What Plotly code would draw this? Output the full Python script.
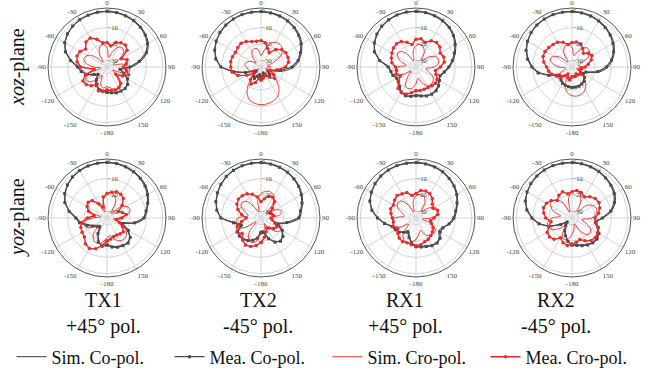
import plotly.graph_objects as go

# Angles (deg), -180 .. 170 step 10
THETA = list(range(-180, 180, 10))

# ---- xoz-plane ----
tx1_xoz_sim_co = [-19,-19.5,-20,-21,-23,-26,-24,-21,-19,-17,-12,-7.5,-4.5,-2.8,-1.6,-0.8,-0.3,0,0,-0.2,-0.6,-1.2,-2,-3.2,-5,-8,-13,-19,-25,-24,-20,-18,-17,-17,-17.5,-18]
tx1_xoz_mea_co = [-18.5,-19,-19.5,-21,-24,-27,-25,-21,-18,-16,-11.5,-7,-4.2,-2.5,-1.4,-0.7,-0.4,-0.1,0,-0.3,-0.8,-1.4,-2.3,-3.6,-5.5,-8.5,-14,-20,-26,-23,-19.5,-17.5,-16.8,-17,-17.2,-18]
tx1_xoz_sim_cx = [-22,-21,-23,-28,-24,-20,-19,-22,-30,-26,-21,-19,-20,-24,-30,-25,-21,-20,-22,-28,-24,-20,-19,-21,-27,-30,-24,-21,-20,-23,-30,-25,-21,-19,-19.5,-21]
tx1_xoz_mea_cx = [-20,-19,-18.5,-22,-19,-17.5,-17,-20,-26,-18,-15.5,-14.5,-15,-17,-14,-13.5,-16,-19,-19,-21,-18,-17,-16.5,-18,-24,-21,-22,-24,-22,-20,-23,-27,-21,-19.5,-19,-19.5]

tx2_xoz_sim_co = [-28,-30,-29,-27,-28,-31,-30,-25,-18,-10,-6.5,-4.2,-2.6,-1.5,-0.8,-0.3,0,0,-0.1,-0.3,-0.7,-1.3,-2.2,-3.5,-5.3,-7.8,-10.5,-14,-20,-27,-30,-28,-27,-29,-31,-29]
tx2_xoz_mea_co = [-27,-29,-28,-26,-27,-30,-29,-24,-17,-9.5,-6,-3.9,-2.4,-1.3,-0.6,-0.2,0,-0.1,-0.2,-0.5,-0.9,-1.6,-2.6,-4,-5.8,-8.3,-11,-15,-22,-28,-29,-27,-26,-28,-30,-28]
tx2_xoz_sim_cx = [-11,-11.5,-13,-17,-24,-32,-30,-27,-26,-25,-24,-25,-27,-30,-26,-23,-22,-23,-27,-24,-19,-16.5,-16,-17,-20,-26,-30,-28,-30,-31,-28,-22,-17,-13.5,-12,-11.2]
tx2_xoz_mea_cx = [-26,-27,-24,-22,-24,-28,-24,-19,-16,-15.5,-15.2,-15.5,-16,-15.5,-15,-16,-17.5,-18,-17.8,-19,-22,-24,-20,-17.5,-16.5,-16.5,-17,-19,-24,-28,-25,-23,-26,-29,-28,-27]

rx1_xoz_sim_co = [-17,-16,-15.5,-16,-18,-19.5,-20,-19,-18,-17.5,-12,-7.5,-5,-3,-1.7,-0.8,-0.3,0,0,-0.2,-0.6,-1.2,-2.2,-3.8,-6,-8.5,-11,-13.5,-16,-18,-18,-16.5,-15.5,-15,-15.5,-16.5]
rx1_xoz_mea_co = [-16.5,-15.8,-15.3,-16.2,-18.5,-20,-20.5,-19,-18.5,-17,-11.5,-7,-4.6,-2.8,-1.5,-0.7,-0.2,0,-0.1,-0.3,-0.8,-1.5,-2.5,-4.2,-6.5,-9,-11.5,-14,-16.5,-18.5,-17.5,-16,-15,-14.8,-15.2,-16]
rx1_xoz_sim_cx = [-24,-21,-20,-21,-26,-30,-25,-22,-21,-23,-28,-24,-21,-20,-22,-27,-30,-24,-21,-20,-21,-24,-29,-25,-21,-19.5,-20,-23,-28,-26,-22,-20.5,-20,-21,-24,-27]
rx1_xoz_mea_cx = [-19.5,-18,-16.5,-16,-17,-20,-23,-21,-22,-21.5,-19,-18,-17,-16,-15.5,-16,-18,-20,-17,-16.5,-18,-15.5,-14.5,-15,-17,-16,-16.5,-19,-22,-21,-19,-18.5,-19,-19.5,-19.5,-19.5]

rx2_xoz_sim_co = [-22,-22,-22.5,-23,-24,-26,-25,-20,-14,-10,-7,-4.5,-2.8,-1.6,-0.8,-0.3,0,0,-0.1,-0.3,-0.7,-1.3,-2.1,-3.2,-4.6,-6.5,-9,-12,-17,-24,-27,-25,-23,-22.5,-22,-22]
rx2_xoz_mea_co = [-21.5,-21.8,-22,-22.5,-23.5,-25,-24,-19,-13,-9.5,-6.5,-4.2,-2.6,-1.4,-0.6,-0.2,0,-0.1,-0.2,-0.5,-0.9,-1.6,-2.5,-3.6,-5.2,-7,-9.5,-13,-18,-25,-26,-24,-22.5,-22,-21.5,-21.5]
rx2_xoz_sim_cx = [-16.5,-18,-22,-28,-26,-23,-24,-29,-30,-26,-22,-20,-21,-25,-30,-24,-21,-20,-22,-27,-24,-20.5,-19,-20,-23,-29,-30,-27,-30,-31,-29,-25,-21,-18,-16.5,-16]
rx2_xoz_mea_cx = [-28,-26,-27,-29,-27,-25,-23,-21,-19.5,-18.5,-16.5,-15.2,-15,-15.5,-16,-16.5,-18,-20,-19,-18.5,-19,-21,-23,-21,-20,-21.5,-24,-26,-28,-29,-28,-27,-28,-29,-28,-28]

# ---- yoz-plane ----
tx1_yoz_sim_co = [-18,-17,-19,-24,-28,-27,-25,-22,-18,-15.5,-11,-7,-4.5,-2.7,-1.5,-0.7,-0.2,0,0,-0.2,-0.6,-1.2,-2,-3.2,-5,-7.2,-9.5,-11,-16,-25,-20,-16,-14.5,-15,-15.5,-16.5]
tx1_yoz_mea_co = [-17.5,-16.5,-18.5,-23,-27,-26,-24,-21,-17,-15,-10.5,-6.6,-4.2,-2.5,-1.3,-0.6,-0.2,-0.1,-0.1,-0.3,-0.8,-1.5,-2.4,-3.7,-5.5,-7.6,-9.8,-11.5,-17,-24,-19,-15.5,-14,-14.5,-15,-16]
tx1_yoz_sim_cx = [-22,-19,-17.5,-18,-21,-27,-22,-19.5,-20,-25,-30,-23,-20,-19,-21,-26,-30,-22,-19,-18.5,-20,-24,-30,-24,-20,-19,-21,-27,-30,-25,-21,-18.5,-17.5,-18,-20,-23]
tx1_yoz_mea_cx = [-20,-17,-14,-12.5,-13.5,-16,-16.5,-17,-18,-22,-26,-22,-20,-19,-20,-24,-27,-21,-19,-18,-17,-17.2,-18.5,-22,-26,-24,-22,-25,-28,-26,-23,-21,-21.5,-22,-22,-21]

tx2_yoz_sim_co = [-26,-22,-20,-18.5,-17.5,-17,-18,-22,-18,-10,-7,-5,-3.5,-2.2,-1.2,-0.5,-0.1,0,-0.1,-0.4,-0.9,-1.6,-2.5,-3.7,-5.2,-7,-9,-10.5,-17,-24,-20,-17,-16,-17.5,-21,-26]
tx2_yoz_mea_co = [-25,-21.5,-19.5,-18,-17,-16.8,-17.5,-21,-17,-9.5,-6.6,-4.7,-3.3,-2,-1,-0.4,-0.1,-0.1,-0.2,-0.6,-1.1,-1.8,-2.8,-4,-5.6,-7.4,-9.5,-11,-18,-23,-19,-16.5,-15.5,-17,-20.5,-25]
tx2_yoz_sim_cx = [-25,-20,-18,-19,-23,-30,-22,-19,-18.5,-20,-26,-24,-20,-19,-21,-27,-30,-23,-19,-17.5,-17,-18.5,-23,-30,-24,-21,-22,-28,-27,-22,-20,-21,-26,-30,-27,-26]
tx2_yoz_mea_cx = [-19,-17,-15.5,-15,-16.5,-19,-17,-18.5,-22,-25,-22,-19,-17,-16,-16.2,-17,-18.5,-21,-24,-22,-20,-19.5,-21,-25,-28,-27,-26,-28,-27,-25,-23,-24,-26,-27,-25,-22]

rx1_yoz_sim_co = [-17,-19,-22,-25,-23,-21,-20,-19,-15,-11,-7,-4.3,-2.7,-1.6,-0.8,-0.3,0,0,-0.1,-0.3,-0.7,-1.3,-2.2,-3.4,-5,-7,-9,-10.5,-13,-17,-18,-15.5,-14.5,-15,-16,-16.5]
rx1_yoz_mea_co = [-16.5,-18.5,-21.5,-24,-22.5,-20.5,-19.5,-18.5,-14.5,-10.5,-6.6,-4,-2.5,-1.4,-0.6,-0.2,0,-0.1,-0.2,-0.5,-0.9,-1.5,-2.5,-3.7,-5.3,-7.4,-9.4,-11,-13.5,-16.5,-17,-14.8,-14,-14.5,-15.5,-16]
rx1_yoz_sim_cx = [-21,-19,-18,-19,-22,-28,-23,-20,-19.5,-21,-27,-25,-21,-19.5,-20.5,-25,-30,-24,-20.5,-19.5,-20,-23,-29,-25,-21,-20,-21,-25,-30,-24,-20.5,-19.5,-20,-22,-26,-24]
rx1_yoz_mea_cx = [-17,-17.5,-18,-17.5,-18,-19.5,-21,-19,-20,-19.5,-18.5,-17.5,-18,-17,-16,-17,-17.5,-20,-19,-17,-16.5,-17,-18.5,-21,-22,-20,-20.5,-23,-25,-24,-22,-21,-20,-19,-18.5,-17.5]

rx2_yoz_sim_co = [-18,-20,-23,-26,-29,-31,-27,-20,-14,-10,-6.5,-4,-2.5,-1.4,-0.7,-0.2,0,0,-0.1,-0.3,-0.6,-1.1,-1.8,-2.6,-3.8,-6,-9.5,-15,-20,-18,-15.5,-14.5,-14.5,-15.5,-16.5,-17.5]
rx2_yoz_mea_co = [-17.5,-19.5,-22.5,-25,-28,-30,-26,-19,-13.5,-9.5,-6,-3.7,-2.3,-1.3,-0.6,-0.2,0,-0.1,-0.2,-0.4,-0.8,-1.3,-2.1,-3,-4.3,-6.5,-10,-15.5,-19.5,-17,-15,-14,-14.2,-15,-16,-17]
rx2_yoz_sim_cx = [-24,-21,-20,-22,-28,-24,-20,-18.5,-19,-22,-27,-22,-19,-18,-19.5,-24,-30,-22,-18,-17.5,-19,-24,-29,-22,-19,-18,-19,-22,-28,-25,-21,-19.5,-21,-26,-30,-27]
rx2_yoz_mea_cx = [-18,-17,-18,-20,-17,-16,-16.5,-19,-21,-18,-16.5,-15.5,-16,-17.5,-20,-18,-17,-19,-18,-17,-17.5,-19,-17,-15.5,-15,-16,-17.5,-20,-19,-17,-16,-15.5,-16,-18,-20,-19]

COL_TITLES = ["TX1", "TX2", "RX1", "RX2"]
COL_POLS = ["+45° pol.", "-45° pol.", "+45° pol.", "-45° pol."]
ROW_TITLES = ["<i>xoz</i>-plane", "<i>yoz</i>-plane"]
ANG_TICKVALS = [0, 30, 60, 90, 120, 150, 180, 210, 240, 270, 300, 330]
ANG_TICKTEXT = ["0", "30", "60", "90", "120", "150", "-180", "-150", "-120", "-90", "-60", "-30"]
RAD_TICKS = [0, -10, -20, -30]
SERIES_NAMES = ["Sim. Co-pol.", "Mea. Co-pol.", "Sim. Cro-pol.", "Mea. Cro-pol."]

PANELS = [
    [tx1_xoz_sim_co, tx1_xoz_mea_co, tx1_xoz_sim_cx, tx1_xoz_mea_cx],
    [tx2_xoz_sim_co, tx2_xoz_mea_co, tx2_xoz_sim_cx, tx2_xoz_mea_cx],
    [rx1_xoz_sim_co, rx1_xoz_mea_co, rx1_xoz_sim_cx, rx1_xoz_mea_cx],
    [rx2_xoz_sim_co, rx2_xoz_mea_co, rx2_xoz_sim_cx, rx2_xoz_mea_cx],
    [tx1_yoz_sim_co, tx1_yoz_mea_co, tx1_yoz_sim_cx, tx1_yoz_mea_cx],
    [tx2_yoz_sim_co, tx2_yoz_mea_co, tx2_yoz_sim_cx, tx2_yoz_mea_cx],
    [rx1_yoz_sim_co, rx1_yoz_mea_co, rx1_yoz_sim_cx, rx1_yoz_mea_cx],
    [rx2_yoz_sim_co, rx2_yoz_mea_co, rx2_yoz_sim_cx, rx2_yoz_mea_cx],
]

W, H = 655, 379
CX = [107, 261, 416, 572]
CY = [67, 218]
R = 59
LABEL_X = [103, 258, 405, 556]

STYLES = [
    dict(mode="lines", line=dict(color="#3a3a3a", width=1.0, shape="spline")),
    dict(mode="lines+markers", line=dict(color="#4a4a4a", width=1.3),
         marker=dict(symbol="square", size=3, color="#4a4a4a")),
    dict(mode="lines", line=dict(color="#ff2020", width=0.9, shape="spline")),
    dict(mode="lines+markers", line=dict(color="#ec2a2a", width=1.4),
         marker=dict(symbol="circle", size=3.5, color="#ec2a2a")),
]

fig = go.Figure()
FONT = "Liberation Serif, Times New Roman, serif"

for p, series in enumerate(PANELS):
    row, col = divmod(p, 4)
    key = "polar" if p == 0 else f"polar{p+1}"
    for s, vals in enumerate(series):
        th = THETA + [THETA[0]]
        rr = list(vals) + [vals[0]]
        fig.add_trace(go.Scatterpolar(
            theta=th, r=rr, subplot=key, name=SERIES_NAMES[s],
            showlegend=(p == 0), legendrank=s, **STYLES[s]))
    cx, cy = CX[col], CY[row]
    fig.layout[key] = dict(
        domain=dict(x=[(cx - R) / W, (cx + R) / W],
                    y=[(H - cy - R) / H, (H - cy + R) / H]),
        bgcolor="white",
        angularaxis=dict(rotation=90, direction="clockwise",
                         tickmode="array", tickvals=ANG_TICKVALS, ticktext=ANG_TICKTEXT,
                         tickfont=dict(family=FONT, size=7, color="#444444"),
                         showline=True, linecolor="#555", linewidth=1,
                         gridcolor="#d4d4d4", gridwidth=0.8, ticks=""),
        radialaxis=dict(range=[-34, 2], tickmode="array", tickvals=RAD_TICKS,
                        angle=90, tickangle=90, showline=False, ticks="",
                        gridcolor="#d4d4d4", gridwidth=0.8,
                        tickfont=dict(family=FONT, size=6.5, color="#444444")),
    )

ann = []
for c in range(4):
    for text, y in ((COL_TITLES[c], 300), (COL_POLS[c], 326)):
        ann.append(dict(x=LABEL_X[c] / W, y=(H - y) / H, xref="paper", yref="paper",
                        text=text, showarrow=False, xanchor="center", yanchor="middle",
                        font=dict(family=FONT, size=20, color="#111")))
for r_i in range(2):
    ann.append(dict(x=17 / W, y=(H - CY[r_i]) / H, xref="paper", yref="paper",
                    text=ROW_TITLES[r_i], textangle=-90, showarrow=False,
                    xanchor="center", yanchor="middle",
                    font=dict(family=FONT, size=20, color="#111")))

fig.update_layout(
    width=W, height=H, margin=dict(l=0, r=0, t=0, b=0),
    paper_bgcolor="white", plot_bgcolor="white",
    annotations=ann,
    legend=dict(orientation="h", x=0.5, xanchor="center", y=(H - 357) / H, yanchor="middle",
                font=dict(family=FONT, size=18, color="#111"),
                entrywidth=113, entrywidthmode="pixels", itemwidth=30,
                bgcolor="rgba(0,0,0,0)", tracegroupgap=0),
)

fig.write_html("out.html")
